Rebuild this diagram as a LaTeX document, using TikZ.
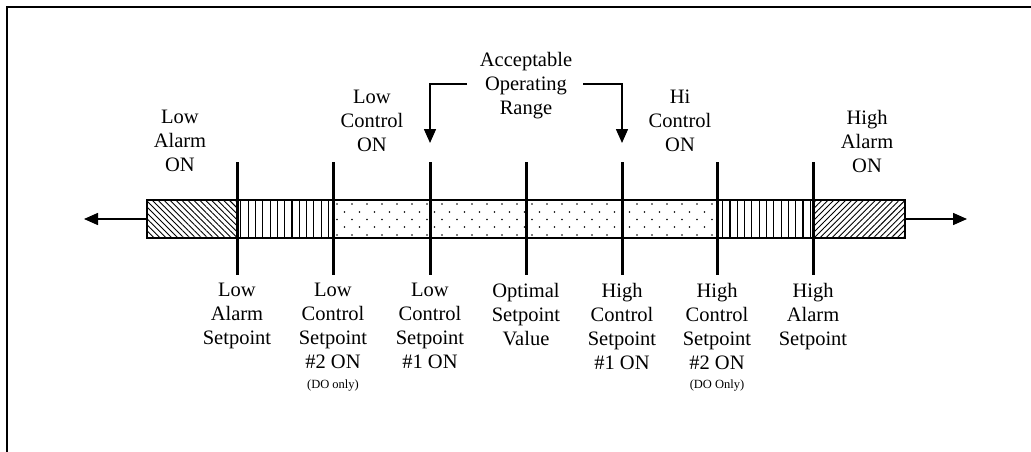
\documentclass[tikz,border=0pt]{standalone}
\usepackage{fontspec}
\setmainfont{Liberation Serif}
\usetikzlibrary{patterns.meta,arrows.meta}
\begin{document}
\begin{tikzpicture}[x=1pt,y=-1pt,
  lbl/.style={font=\fontsize{20.5}{24}\selectfont, align=center, inner sep=0pt, anchor=north},
  smalllbl/.style={font=\fontsize{12.5}{14}\selectfont, inner sep=0pt, anchor=base},
  markline/.style={line width=3pt},
  arr/.style={line width=1.5pt, -{Triangle[length=14pt,width=12pt]}},
  elbow/.style={line width=1.5pt, -{Triangle[length=14pt,width=12pt]}},
  frame/.style={line width=2pt}]
\useasboundingbox (0,0) rectangle (1031,452);
% frame
\draw[frame] (1031,7) -- (7,7) -- (7,452);
% bar segments
\coordinate (barTL) at (147,200);
\coordinate (barBR) at (905,238);
\fill[pattern={Lines[angle=-45,distance=4.2pt,line width=0.9pt]}] (147,200) rectangle (237,238);
\fill[pattern={Lines[angle=90,distance=7.3pt,line width=1.1pt]}] (237,200) rectangle (333,238);
\fill[pattern={Lines[angle=90,distance=7.3pt,line width=1.1pt]}] (717,200) rectangle (813,238);
\fill[pattern={Lines[angle=45,distance=4.2pt,line width=0.9pt]}] (813,200) rectangle (905,238);
\begin{scope}
  \clip (333,200) rectangle (717,238);
  \foreach \r/\yy in {0/204,1/212,2/219.5,3/227,4/235}{
    \pgfmathsetmacro{\off}{mod(\r,2)*7.5}
    \foreach \i in {0,...,26}{
      \fill ({337+\off+15*\i},\yy) circle (0.85pt);
    }
  }
\end{scope}
\draw[line width=1.5pt] (barTL) rectangle (barBR);
% side arrows
\coordinate (barL) at (147,219);
\coordinate (barR) at (905,219);
\coordinate (tipL) at (84,219);
\coordinate (tipR) at (967,219);
\draw[arr] (barL) -- (tipL);
\draw[arr] (barR) -- (tipR);
% marker lines
\foreach \n/\x in {1/237,2/333,3/430,4/526,5/622,6/717,7/813}{
  \coordinate (t\n) at (\x,162);
  \coordinate (b\n) at (\x,275);
  \draw[markline] (t\n) -- (b\n);
}
% bottom labels
\node[lbl] (l1) at (237,283) {Low\\Alarm\\Setpoint};
\node[lbl] (l2) at (333,283) {Low\\Control\\Setpoint\\\#2 ON};
\node[lbl] (l3) at (430,283) {Low\\Control\\Setpoint\\\#1 ON};
\node[lbl] (l4) at (526,283) {Optimal\\Setpoint\\Value};
\node[lbl] (l5) at (622,283) {High\\Control\\Setpoint\\\#1 ON};
\node[lbl] (l6) at (717,283) {High\\Control\\Setpoint\\\#2 ON};
\node[lbl] (l7) at (813,283) {High\\Alarm\\Setpoint};
\node[smalllbl] (d2) at (333,388) {(DO only)};
\node[smalllbl] (d6) at (717,388) {(DO Only)};
% top labels
\node[lbl] (u1) at (180,110) {Low\\Alarm\\ON};
\node[lbl] (u2) at (372,90) {Low\\Control\\ON};
\node[lbl] (u3) at (526,52) {Acceptable\\Operating\\Range};
\node[lbl] (u4) at (680,90) {Hi\\Control\\ON};
\node[lbl] (u5) at (867,110) {High\\Alarm\\ON};
% range arrows
\coordinate (rl) at (467,84);
\coordinate (rr) at (583,84);
\coordinate (rlt) at (430,143);
\coordinate (rrt) at (622,143);
\draw[elbow] (rl) -| (rlt);
\draw[elbow] (rr) -| (rrt);
\end{tikzpicture}
\end{document}
